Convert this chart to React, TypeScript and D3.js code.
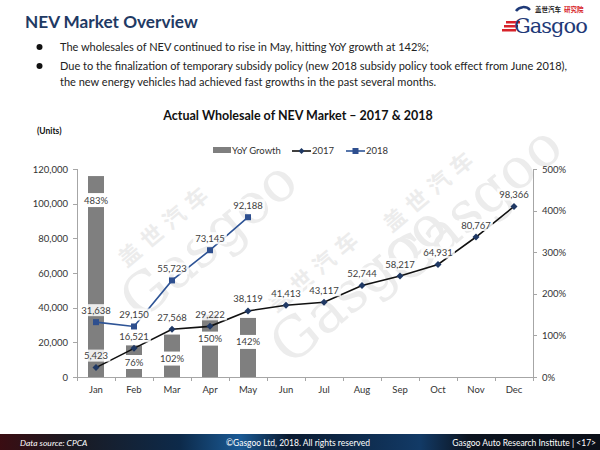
import React from "react";
import * as d3 from "d3";

const months = ["Jan", "Feb", "Mar", "Apr", "May", "Jun", "Jul", "Aug", "Sep", "Oct", "Nov", "Dec"];
const sales2017 = [5423, 16521, 27568, 29222, 38119, 41413, 43117, 52744, 58217, 64931, 80767, 98366];
const sales2018 = [31638, 29150, 55723, 73145, 92188];
const yoyGrowth = [4.83, 0.76, 1.02, 1.5, 1.42];
const leftTicks = [0, 20000, 40000, 60000, 80000, 100000, 120000];
const rightTicks = [0, 1, 2, 3, 4, 5];
const bullets = [
  "The wholesales of NEV continued to rise in May, hitting YoY growth at 142%;",
  "Due to the finalization of temporary subsidy policy (new 2018 subsidy policy took effect from June 2018),",
];
const bulletCont = "the new energy vehicles had achieved fast growths in the past several months.";

const FONT = "Lato, 'Open Sans', sans-serif";

export default function App() {
  const W = 600, H = 450;
  const x = d3.scaleBand<string>().domain(months).range([77, 533]).padding(0);
  const y = d3.scaleLinear().domain([0, 120000]).range([377, 169]);
  const yR = d3.scaleLinear().domain([0, 5]).range([377, 169]);
  const cx = (m: string) => (x(m) as number) + x.bandwidth() / 2;
  const fmt = d3.format(",");
  const pct = (v: number) => `${Math.round(v * 100)}%`;
  const line17 = d3.line<number>().x((_, i) => cx(months[i])).y((d) => y(d));
  const line18 = d3.line<number>().x((_, i) => cx(months[i])).y((d) => y(d));
  const barW = 16;
  const labelColor = "#404040";

  const diamond = (px: number, py: number, s = 3.5) =>
    `M${px},${py - s}L${px + s},${py}L${px},${py + s}L${px - s},${py}Z`;

  const watermark = (tx: number, ty: number, key: string) => (
    <g key={key} transform={`translate(${tx},${ty}) rotate(-40)`} fill="#ececec">
      <text x={14} y={-30} fontSize={22} fontFamily="'Noto Sans CJK SC', sans-serif" fontWeight={700} letterSpacing={7}>盖世汽车</text>
      <text x={-10} y={20} fontSize={56} fontFamily="'DejaVu Serif', serif">Gasgoo</text>
    </g>
  );

  const textW = (s: string, fs: number) => s.length * fs * 0.52 + 4;

  return (
    <svg width={W} height={H} style={{ position: "absolute", left: 0, top: 0, background: "#fff" }}>
      <defs>
        <linearGradient id="foot" x1="0" x2="1" y1="0" y2="0">
          <stop offset="0" stopColor="#3a0d12" />
          <stop offset="0.12" stopColor="#1a1a22" />
          <stop offset="0.3" stopColor="#0d2a4a" />
          <stop offset="0.4" stopColor="#1a5a95" />
          <stop offset="0.48" stopColor="#0a1a30" />
          <stop offset="0.7" stopColor="#123a66" />
          <stop offset="0.78" stopColor="#0c1420" />
          <stop offset="1" stopColor="#0b0f18" />
        </linearGradient>
      </defs>
      <rect width={W} height={H} fill="#fff" />

      {/* header */}
      <text x={25} y={28} fontSize={17.2} fontWeight={700} fill="#1f3a64" fontFamily={FONT}>NEV Market Overview</text>
      {/* logo */}
      <g>
        <path d="M516,11 a9,9 0 0,1 14,-1" stroke="#1f3a78" strokeWidth={2.5} fill="none" />
        <rect x={506} y={21} width={14} height={2.5} fill="#d7232a" />
        <rect x={504} y={25} width={14} height={2.5} fill="#d7232a" />
        <rect x={502} y={29} width={14} height={2.5} fill="#d7232a" />
        <text x={514} y={33} fontSize={21} fill="#1f3a78" fontFamily="'DejaVu Serif', serif" letterSpacing={-1}>Gasgoo</text>
        <text x={535} y={12} fontSize={6.5} fill="#222" fontFamily="'Noto Sans CJK SC', sans-serif" fontWeight={700}>盖世汽车</text>
        <text x={564} y={12} fontSize={6.5} fill="#d7232a" fontFamily="'Noto Sans CJK SC', sans-serif" fontWeight={700}>研究院</text>
      </g>
      {/* bullets */}
      <g fontFamily={FONT} fontSize={11} fill="#222">
        <circle cx={39.5} cy={47} r={3} fill="#111" />
        <text x={60} y={51}>{bullets[0]}</text>
        <circle cx={39.5} cy={66} r={3} fill="#111" />
        <text x={60} y={70}>{bullets[1]}</text>
        <text x={60} y={86}>{bulletCont}</text>
      </g>

      {/* watermarks */}
      {watermark(135, 300, "w1")}
      {watermark(400, 265, "w2")}
      {watermark(285, 345, "w3")}

      {/* title */}
      <text x={298} y={120} textAnchor="middle" fontSize={12.5} fontWeight={700} fill="#111" fontFamily={FONT}>
        Actual Wholesale of NEV Market – 2017 &amp; 2018
      </text>
      <text x={37} y={134} fontSize={8.5} fontWeight={700} fill="#111" fontFamily={FONT}>(Units)</text>

      {/* legend */}
      <g fontFamily={FONT} fontSize={9.5} fill="#333">
        <rect x={213} y={147} width={18} height={6} fill="#7f7f7f" />
        <text x={232} y={154}>YoY Growth</text>
        <line x1={292} x2={311} y1={151} y2={151} stroke="#111" strokeWidth={1.6} />
        <path d={diamond(301.5, 151, 3)} fill="#1f3864" />
        <text x={312} y={154}>2017</text>
        <line x1={346} x2={365} y1={151} y2={151} stroke="#2e5496" strokeWidth={1.6} />
        <rect x={352.5} y={148} width={6} height={6} fill="#2e4f8f" />
        <text x={366} y={154}>2018</text>
      </g>

      {/* axes */}
      <g stroke="#a6a6a6" strokeWidth={1}>
        <line x1={77.5} x2={77.5} y1={169} y2={377} />
        <line x1={533.5} x2={533.5} y1={169} y2={377} />
        <line x1={77} x2={533} y1={377.5} y2={377.5} />
        {leftTicks.map((t) => (
          <line key={"lt" + t} x1={73} x2={77} y1={Math.round(y(t)) + 0.5} y2={Math.round(y(t)) + 0.5} />
        ))}
        {rightTicks.map((t) => (
          <line key={"rt" + t} x1={533} x2={537} y1={Math.round(yR(t)) + 0.5} y2={Math.round(yR(t)) + 0.5} />
        ))}
        {months.concat(["end"]).map((m, i) => {
          const xx = 77 + i * x.bandwidth();
          return <line key={"xt" + i} x1={Math.round(xx) + 0.5} x2={Math.round(xx) + 0.5} y1={377} y2={381} />;
        })}
      </g>
      <g fontFamily={FONT} fontSize={9.5} fill="#333">
        {leftTicks.map((t) => (
          <text key={"ltl" + t} x={68} y={y(t) + 3.5} textAnchor="end">{fmt(t)}</text>
        ))}
        {rightTicks.map((t) => (
          <text key={"rtl" + t} x={542} y={yR(t) + 3.5}>{pct(t)}</text>
        ))}
        {months.map((m) => (
          <text key={"xl" + m} x={cx(m)} y={393} textAnchor="middle">{m}</text>
        ))}
      </g>

      {/* bars */}
      {yoyGrowth.map((v, i) => (
        <rect key={"b" + i} x={cx(months[i]) - barW / 2} y={yR(v)} width={barW} height={yR(0) - yR(v)} fill="#7f7f7f" />
      ))}

      {/* lines */}
      <path d={line17(sales2017) || ""} fill="none" stroke="#111" strokeWidth={1.6} />
      <path d={line18(sales2018) || ""} fill="none" stroke="#2e5496" strokeWidth={1.6} />
      {sales2017.map((v, i) => (
        <path key={"d" + i} d={diamond(cx(months[i]), y(v))} fill="#1f3864" />
      ))}
      {sales2018.map((v, i) => (
        <rect key={"s" + i} x={cx(months[i]) - 3} y={y(v) - 3} width={6} height={6} fill="#2e4f8f" />
      ))}

      {/* data labels */}
      <g fontFamily={FONT} fontSize={9.5} fill={labelColor} textAnchor="middle">
        {yoyGrowth.map((v, i) => {
          const s = pct(v);
          const ly = Math.min(yR(v) + 24, 362);
          const w = textW(s, 9.5);
          return (
            <g key={"bl" + i}>
              <rect x={cx(months[i]) - w / 2} y={ly - 7} width={w} height={14} fill="#fff" />
              <text x={cx(months[i])} y={ly + 3.5}>{s}</text>
            </g>
          );
        })}
        {sales2017.map((v, i) => {
          const s = fmt(v);
          const w = textW(s, 9.5);
          const ly = y(v) - 12;
          return (
            <g key={"l17" + i}>
              <rect x={cx(months[i]) - w / 2} y={ly - 6} width={w} height={12} fill="#fff" opacity={0.85} />
              <text x={cx(months[i])} y={ly + 3.5}>{s}</text>
            </g>
          );
        })}
        {sales2018.map((v, i) => {
          const s = fmt(v);
          const w = textW(s, 9.5);
          const ly = y(v) - 12;
          return (
            <g key={"l18" + i}>
              <rect x={cx(months[i]) - w / 2} y={ly - 6} width={w} height={12} fill="#fff" opacity={0.85} />
              <text x={cx(months[i])} y={ly + 3.5}>{s}</text>
            </g>
          );
        })}
      </g>

      {/* footer */}
      <rect x={0} y={434} width={W} height={16} fill="url(#foot)" />
      <g fontFamily={FONT} fontSize={8.5} fill="#fff">
        <text x={20} y={445.5} fontStyle="italic">Data source: CPCA</text>
        <text x={298} y={445.5} textAnchor="middle">©Gasgoo Ltd, 2018.  All rights reserved</text>
        <text x={596} y={445.5} textAnchor="end">Gasgoo Auto Research Institute  |  &lt;17&gt;</text>
      </g>
    </svg>
  );
}
